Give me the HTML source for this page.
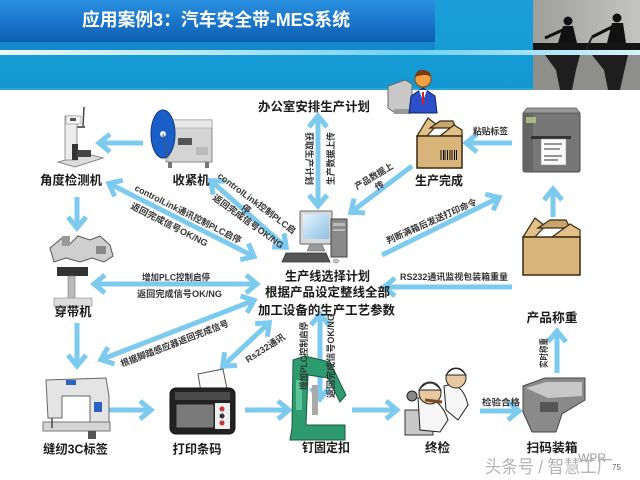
<!DOCTYPE html>
<html><head><meta charset="utf-8"><style>
html,body{margin:0;padding:0;background:#fff;}
svg{display:block;}
text{font-family:"Liberation Sans","Noto Sans CJK SC",sans-serif;}
.big{font-size:12.5px;font-weight:bold;fill:#1a1a1a;}
.sm{font-size:9px;font-weight:bold;fill:#333;}
.ar{stroke:#7ccbef;stroke-width:5;fill:none;}
</style></head><body>
<svg width="640" height="480" viewBox="0 0 640 480" xmlns="http://www.w3.org/2000/svg">
<defs>
<linearGradient id="hdr" x1="0" y1="0" x2="0" y2="1"><stop offset="0" stop-color="#1c9fd9"/><stop offset="1" stop-color="#1398d1"/></linearGradient>
<linearGradient id="tb" x1="0" y1="0" x2="0" y2="1"><stop offset="0" stop-color="#2a90e0"/><stop offset="0.55" stop-color="#1a74c9"/><stop offset="1" stop-color="#0d5fb0"/></linearGradient>
<linearGradient id="st" x1="0" y1="0" x2="1" y2="0"><stop offset="0" stop-color="#eaf8fd"/><stop offset="0.35" stop-color="#b0e6f8"/><stop offset="0.65" stop-color="#6fd0f4"/><stop offset="1" stop-color="#d8f3fb"/></linearGradient>
<linearGradient id="ph" x1="0" y1="0" x2="1" y2="0"><stop offset="0" stop-color="#9e9e9a"/><stop offset="1" stop-color="#c4c4c0"/></linearGradient>
<linearGradient id="scr" x1="0" y1="0" x2="1" y2="1"><stop offset="0" stop-color="#e8f4fc"/><stop offset="1" stop-color="#8cc0e4"/></linearGradient>
<marker id="h" markerUnits="userSpaceOnUse" markerWidth="30" markerHeight="30" viewBox="-20 -15 30 30" refX="0" refY="0" orient="auto-start-reverse" overflow="visible">
<path d="M-12,-9 L-1,0 L-12,9" fill="none" stroke="#7ccbef" stroke-width="5"/>
</marker>
</defs>

<!-- HEADER -->
<rect x="0" y="0" width="640" height="90" fill="url(#hdr)"/>
<rect x="0" y="0" width="435" height="42" fill="url(#tb)"/>
<rect x="0" y="42" width="435" height="8" fill="#1588cd"/>
<!-- photo -->
<rect x="533" y="0" width="107" height="90" fill="url(#ph)"/>
<rect x="533" y="55" width="107" height="35" fill="#8e8e8a"/>
<path d="M545,55 L580,55 L576,70 L572,90 L560,90 L556,70 Z" fill="#1e1e1e"/>
<path d="M592,55 L628,55 L624,72 L620,90 L608,90 L604,70 Z" fill="#1e1e1e"/>
<rect x="533" y="43" width="107" height="7" fill="#141414"/>
<circle cx="568" cy="21" r="4.5" fill="#111"/>
<path d="M563,26 L573,26 L577,43 L558,43 Z" fill="#111"/>
<path d="M565,29 L545,38" stroke="#111" stroke-width="3"/>
<circle cx="617" cy="18" r="4.5" fill="#111"/>
<path d="M612,23 L623,23 L626,43 L607,43 Z" fill="#111"/>
<path d="M612,27 L592,37" stroke="#111" stroke-width="3"/>
<path d="M592,37 L585,52" stroke="#222" stroke-width="2"/>
<rect x="0" y="50" width="640" height="5" fill="url(#st)"/>
<rect x="0" y="88" width="533" height="2" fill="#2aa8dc"/>
<text x="82" y="26" font-size="18" font-weight="bold" fill="#fff" textLength="268" lengthAdjust="spacingAndGlyphs">应用案例3：汽车安全带-MES系统</text>

<!-- ARROWS -->
<line class="ar" x1="143" y1="143" x2="98" y2="143" marker-end="url(#h)"/>
<line class="ar" x1="77" y1="197" x2="77" y2="229" marker-end="url(#h)"/>
<line class="ar" x1="77" y1="323" x2="77" y2="367" marker-end="url(#h)"/>
<line class="ar" x1="107" y1="410" x2="152" y2="410" marker-end="url(#h)"/>
<line class="ar" x1="245" y1="410" x2="290" y2="410" marker-end="url(#h)"/>
<line class="ar" x1="352" y1="410" x2="398" y2="410" marker-end="url(#h)"/>
<line class="ar" x1="480" y1="411" x2="520" y2="411" marker-end="url(#h)"/>
<line class="ar" x1="557" y1="373" x2="557" y2="330" marker-end="url(#h)"/>
<line class="ar" x1="553" y1="217" x2="553" y2="188" marker-end="url(#h)"/>
<line class="ar" x1="512" y1="143" x2="465" y2="143" marker-end="url(#h)"/>
<line class="ar" x1="412" y1="166" x2="350" y2="213" marker-end="url(#h)"/>
<line class="ar" x1="382" y1="255" x2="500" y2="197" marker-end="url(#h)"/>
<line class="ar" x1="512" y1="287" x2="383" y2="287" marker-end="url(#h)"/>
<line class="ar" x1="318" y1="115" x2="318" y2="207" marker-start="url(#h)" marker-end="url(#h)"/>
<line class="ar" x1="210" y1="180" x2="287" y2="248" marker-start="url(#h)" marker-end="url(#h)"/>
<line class="ar" x1="108" y1="183" x2="255" y2="257" marker-start="url(#h)" marker-end="url(#h)"/>
<line class="ar" x1="93" y1="284" x2="258" y2="284" marker-start="url(#h)" marker-end="url(#h)"/>
<line class="ar" x1="255" y1="300" x2="100" y2="360" marker-start="url(#h)" marker-end="url(#h)"/>
<line class="ar" x1="270" y1="322" x2="222" y2="367" marker-start="url(#h)" marker-end="url(#h)"/>
<line class="ar" x1="320" y1="313" x2="320" y2="400" marker-start="url(#h)" marker-end="url(#h)"/>

<!-- OFFICE PERSON -->
<polygon points="388,86 405,80 412,84 412,110 395,113 388,108" fill="#c8c8c8" stroke="#666" stroke-width="1"/>
<rect x="394" y="109" width="16" height="5" fill="#999"/>
<path d="M409,113 L411,96 L423,88 L435,96 L437,113 Z" fill="#2c4fc8" stroke="#102060" stroke-width="1"/>
<path d="M419,90 L427,90 L423,101 Z" fill="#fff"/>
<path d="M423,92 L423,104" stroke="#d02020" stroke-width="2"/>
<circle cx="423" cy="79" r="8" fill="#f0a040" stroke="#8a4a10" stroke-width="1"/>
<path d="M415,77 Q416,69 424,70 Q431,71 431,77 Q426,73 415,77 Z" fill="#7a3a10"/>

<!-- CENTER COMPUTER -->
<rect x="300" y="211" width="32" height="33" rx="1" fill="#d8d8d8" stroke="#666"/>
<rect x="303" y="214" width="26" height="25" fill="url(#scr)"/>
<polygon points="310,244 322,244 325,251 307,251" fill="#999" stroke="#666" stroke-width="0.5"/>
<rect x="331" y="219" width="16" height="38" fill="#8a8a8a" stroke="#444"/>
<rect x="333" y="223" width="12" height="3" fill="#bbb"/>
<rect x="333" y="229" width="12" height="2" fill="#bbb"/>
<polygon points="286,253 326,253 330,262 282,262" fill="#555" stroke="#333" stroke-width="0.8"/>
<ellipse cx="336" cy="261" rx="3" ry="2" fill="#ccc" stroke="#666" stroke-width="0.5"/>

<!-- BOX 生产完成 -->
<polygon points="417,136 428,118 437,125 427,136" fill="#e2c08a" stroke="#3a2a10" stroke-width="1.2"/>
<polygon points="430,128 440,121 453,121 456,128" fill="#c9a46c" stroke="#3a2a10" stroke-width="1.2"/>
<polygon points="440,136 454,125 462,130 462,136" fill="#e2c08a" stroke="#3a2a10" stroke-width="1.2"/>
<rect x="417" y="136" width="45" height="32" fill="#d9b57c" stroke="#3a2a10" stroke-width="1.5"/>
<g stroke="#111" stroke-width="1">
<line x1="441" y1="150" x2="441" y2="160"/><line x1="443.5" y1="150" x2="443.5" y2="160"/><line x1="445" y1="150" x2="445" y2="160"/><line x1="447.5" y1="150" x2="447.5" y2="160"/><line x1="450" y1="150" x2="450" y2="160"/><line x1="452" y1="150" x2="452" y2="160"/><line x1="454.5" y1="150" x2="454.5" y2="160"/><line x1="456.5" y1="150" x2="456.5" y2="160"/>
</g>

<!-- PRINTER right -->
<rect x="523" y="113" width="57" height="59" rx="2" fill="#777" stroke="#444"/>
<polygon points="523,113 527,108 576,108 580,113" fill="#999" stroke="#555" stroke-width="0.8"/>
<rect x="523" y="113" width="10" height="59" fill="#656565"/>
<rect x="526" y="117" width="10" height="6" fill="#a8b880"/>
<rect x="531" y="136" width="40" height="3" fill="#333"/>
<rect x="541" y="139" width="25" height="26" fill="#fafafa" stroke="#888" stroke-width="0.5"/>
<g stroke="#333" stroke-width="1"><line x1="544" y1="144" x2="562" y2="144"/><line x1="544" y1="149" x2="560" y2="149"/><line x1="544" y1="156" x2="562" y2="156"/><line x1="544" y1="160" x2="558" y2="160"/></g>

<!-- BOX bottom right -->
<polygon points="523,237 535,218 545,226 535,237" fill="#e2c08a" stroke="#3a2a10" stroke-width="1.2"/>
<polygon points="538,228 550,220 566,220 570,228" fill="#c9a46c" stroke="#3a2a10" stroke-width="1.2"/>
<polygon points="552,237 570,224 580,230 580,237" fill="#e2c08a" stroke="#3a2a10" stroke-width="1.2"/>
<rect x="523" y="237" width="57" height="38" fill="#d9b57c" stroke="#3a2a10" stroke-width="1.5"/>

<!-- 角度检测机 -->
<polygon points="58,162 75,167 103,158 88,154" fill="#dcdcdc" stroke="#888"/>
<rect x="65" y="116" width="12" height="44" fill="#ececec" stroke="#999"/>
<rect x="66" y="116" width="15" height="8" fill="#f4f4f4" stroke="#888" stroke-width="0.6"/>
<rect x="70" y="118" width="6" height="3" fill="#555"/>
<rect x="72" y="144" width="6" height="16" fill="#333"/>
<rect x="77" y="150" width="14" height="7" fill="#444"/>
<line x1="84" y1="107" x2="83" y2="126" stroke="#444" stroke-width="1.5"/>
<line x1="77" y1="127" x2="85" y2="127" stroke="#666" stroke-width="2"/>

<!-- 收紧机 -->
<rect x="166" y="120" width="46" height="42" fill="#d4d4d4" stroke="#888"/>
<rect x="166" y="120" width="46" height="8" fill="#e8e8e8" stroke="#999" stroke-width="0.5"/>
<rect x="178" y="138" width="14" height="7" fill="#555"/>
<rect x="196" y="147" width="12" height="8" fill="#bbb"/>
<rect x="168" y="162" width="4" height="6" fill="#777"/><rect x="205" y="162" width="4" height="6" fill="#777"/>
<ellipse cx="163" cy="134" rx="12" ry="24" fill="#1a5fc8" stroke="#0c3a80" stroke-width="1"/>
<circle cx="163" cy="134" r="3" fill="#eee"/>
<line x1="163" y1="134" x2="168" y2="158" stroke="#555" stroke-width="1"/>

<!-- 穿带机 -->
<path d="M50,248 L62,238 L70,244 L78,236 L90,240 L100,236 L110,245 L113,256 L104,262 L92,258 L80,262 L66,258 L54,262 Z" fill="#cfcfcf" stroke="#555" stroke-width="1"/>
<rect x="62" y="236" width="8" height="10" fill="#999"/>
<rect x="96" y="246" width="10" height="8" fill="#888"/>
<rect x="57" y="267" width="31" height="9" fill="#333"/>
<rect x="68" y="276" width="7" height="26" fill="#bbb" stroke="#777" stroke-width="0.6"/>
<rect x="54" y="298" width="38" height="8" fill="#ddd" stroke="#888" stroke-width="0.6"/>

<!-- 缝纫机 -->
<path d="M46,380 L106,378 L109,396 L109,424 L90,424 L90,396 L62,396 L62,418 L48,418 Z" fill="#e4e4e4" stroke="#666" stroke-width="1"/>
<rect x="43" y="422" width="67" height="9" fill="#d4d4d4" stroke="#777"/>
<rect x="66" y="380" width="10" height="5" fill="#2a62c0"/>
<rect x="94" y="402" width="8" height="10" fill="#2a62c0"/>
<line x1="52" y1="418" x2="52" y2="428" stroke="#444" stroke-width="1.5"/>
<rect x="88" y="431" width="8" height="8" fill="#555"/>

<!-- 打印条码 -->
<path d="M198,374 L223,369 L228,394 L202,398 Z" fill="#fafafa" stroke="#555" stroke-width="1"/>
<rect x="170" y="388" width="65" height="46" rx="6" fill="#232323" stroke="#111"/>
<rect x="175" y="392" width="55" height="8" fill="#4a4a4a"/>
<rect x="176" y="404" width="38" height="24" fill="#7a7a7a" stroke="#222"/>
<rect x="215" y="403" width="15" height="26" fill="#eee"/>
<circle cx="222" cy="409" r="2.5" fill="#c33"/><circle cx="222" cy="416" r="2.5" fill="#333"/><circle cx="222" cy="423" r="2.5" fill="#c33"/>

<!-- 钉固 -->
<path d="M293,360 L305,356 L330,362 L346,395 L340,402 L328,378 L308,375 L306,425 L345,425 L345,440 L290,440 L292,428 Z" fill="#2e9a70" stroke="#1a5a40" stroke-width="1"/>
<rect x="296" y="380" width="6" height="30" fill="#5fc39a"/>
<rect x="312" y="385" width="6" height="30" fill="#aaa"/>

<!-- 终检 -->
<rect x="405" y="410" width="28" height="25" fill="#c8c8c8" stroke="#333"/>
<path d="M418,398 Q440,395 448,420 L440,432 L420,430 Z" fill="#f6f6f6" stroke="#222"/>
<circle cx="430" cy="393" r="11" fill="#e8c8a0" stroke="#222"/>
<path d="M419,390 Q430,376 441,390 Z" fill="#fff" stroke="#222"/>
<path d="M444,386 Q462,380 468,405 L458,420 L446,410 Z" fill="#f6f6f6" stroke="#222"/>
<circle cx="456" cy="378" r="10" fill="#e8c8a0" stroke="#222"/>
<path d="M446,375 Q456,362 466,375 Z" fill="#fff" stroke="#222"/>
<circle cx="412" cy="396" r="5" fill="#888" stroke="#222"/>
<path d="M425,400 L442,402" stroke="#7a4a20" stroke-width="3"/>

<!-- 扫码 -->
<path d="M523,386 L545,378 L585,378 L585,400 L562,414 L556,432 L532,432 L523,412 Z" fill="#8a8a8a" stroke="#444"/>
<path d="M526,388 L546,382 L582,382 L582,396 L548,398 Z" fill="#c8c8c8"/>
<rect x="540" y="402" width="18" height="10" fill="#555"/>

<!-- LABELS big -->
<text class="big" x="314" y="111" text-anchor="middle" textLength="112" lengthAdjust="spacingAndGlyphs">办公室安排生产计划</text>
<text class="big" x="71" y="184.5" text-anchor="middle" textLength="62" lengthAdjust="spacingAndGlyphs">角度检测机</text>
<text class="big" x="191" y="184.5" text-anchor="middle" textLength="37" lengthAdjust="spacingAndGlyphs">收紧机</text>
<text class="big" x="73" y="316" text-anchor="middle" textLength="37" lengthAdjust="spacingAndGlyphs">穿带机</text>
<text class="big" x="75.5" y="453.5" text-anchor="middle" textLength="65" lengthAdjust="spacingAndGlyphs">缝纫3C标签</text>
<text class="big" x="197" y="453.5" text-anchor="middle" textLength="49" lengthAdjust="spacingAndGlyphs">打印条码</text>
<text class="big" x="326" y="452" text-anchor="middle" textLength="48" lengthAdjust="spacingAndGlyphs">钉固定扣</text>
<text class="big" x="437.5" y="452" text-anchor="middle" textLength="25" lengthAdjust="spacingAndGlyphs">终检</text>
<text class="big" x="552" y="452" text-anchor="middle" textLength="51" lengthAdjust="spacingAndGlyphs">扫码装箱</text>
<text class="big" x="552" y="322" text-anchor="middle" textLength="51" lengthAdjust="spacingAndGlyphs">产品称重</text>
<text class="big" x="439" y="185" text-anchor="middle" textLength="48" lengthAdjust="spacingAndGlyphs">生产完成</text>
<text class="big" x="327.5" y="280.5" text-anchor="middle" textLength="85" lengthAdjust="spacingAndGlyphs">生产线选择计划</text>
<text class="big" x="327.5" y="296.5" text-anchor="middle" textLength="125" lengthAdjust="spacingAndGlyphs">根据产品设定整线全部</text>
<text class="big" x="326.5" y="314.5" text-anchor="middle" textLength="137" lengthAdjust="spacingAndGlyphs">加工设备的生产工艺参数</text>

<!-- LABELS small -->
<g transform="translate(217,177) rotate(37)"><text class="sm" x="0" y="0" textLength="95" lengthAdjust="spacingAndGlyphs">controlLink控制PLC启</text><text class="sm" x="38" y="11">停</text></g>
<text class="sm" transform="translate(212,199) rotate(36)" textLength="85" lengthAdjust="spacingAndGlyphs">返回完成信号OK/NG</text>
<text class="sm" transform="translate(134,190) rotate(27)" textLength="118" lengthAdjust="spacingAndGlyphs">controlLink通讯控制PLC启停</text>
<text class="sm" transform="translate(130,208) rotate(27)" textLength="85" lengthAdjust="spacingAndGlyphs">返回完成信号OK/NG</text>
<text class="sm" x="176" y="280.5" text-anchor="middle" textLength="68" lengthAdjust="spacingAndGlyphs">增加PLC控制启停</text>
<text class="sm" x="179.5" y="297" text-anchor="middle" textLength="85" lengthAdjust="spacingAndGlyphs">返回完成信号OK/NG</text>
<text class="sm" transform="translate(122,367) rotate(-21)" textLength="115" lengthAdjust="spacingAndGlyphs">根据脚踏感应器返回完成信号</text>
<text class="sm" transform="translate(248,363) rotate(-33)" textLength="45" lengthAdjust="spacingAndGlyphs">Rs232通讯</text>
<text class="sm" transform="translate(306,132) rotate(90)" textLength="53" lengthAdjust="spacingAndGlyphs">获取生产计划</text>
<text class="sm" transform="translate(334,185) rotate(-90)" textLength="53" lengthAdjust="spacingAndGlyphs">生产数据上传</text>
<text class="sm" transform="translate(307,390) rotate(-90)" textLength="68" lengthAdjust="spacingAndGlyphs">增加PLC控制启停</text>
<text class="sm" transform="translate(334,398) rotate(-90)" textLength="84" lengthAdjust="spacingAndGlyphs">返回完成信号OK/NG</text>
<g transform="translate(357,190) rotate(-31)"><text class="sm" x="0" y="0" textLength="43" lengthAdjust="spacingAndGlyphs">产品数据上</text><text class="sm" x="17" y="11">传</text></g>
<text class="sm" transform="translate(388,244) rotate(-24)" textLength="98" lengthAdjust="spacingAndGlyphs">判断满箱后发送打印命令</text>
<text class="sm" x="490.5" y="134.5" text-anchor="middle" textLength="35" lengthAdjust="spacingAndGlyphs">粘贴标签</text>
<text class="sm" x="454" y="280" text-anchor="middle" textLength="108" lengthAdjust="spacingAndGlyphs">RS232通讯监视包装箱重量</text>
<text class="sm" x="501" y="405.5" text-anchor="middle" textLength="38" lengthAdjust="spacingAndGlyphs">检验合格</text>
<text class="sm" transform="translate(547,368) rotate(-90)" textLength="30" lengthAdjust="spacingAndGlyphs">实时称重</text>

<!-- WATERMARK -->
<text x="578" y="462" font-size="12" fill="#999">WPR</text>
<text x="485" y="473" font-size="18" fill="#b4b4b4" textLength="128" lengthAdjust="spacingAndGlyphs">头条号 / 智慧工厂</text>
<text x="612" y="470" font-size="8" fill="#666">75</text>
</svg>
</body></html>
